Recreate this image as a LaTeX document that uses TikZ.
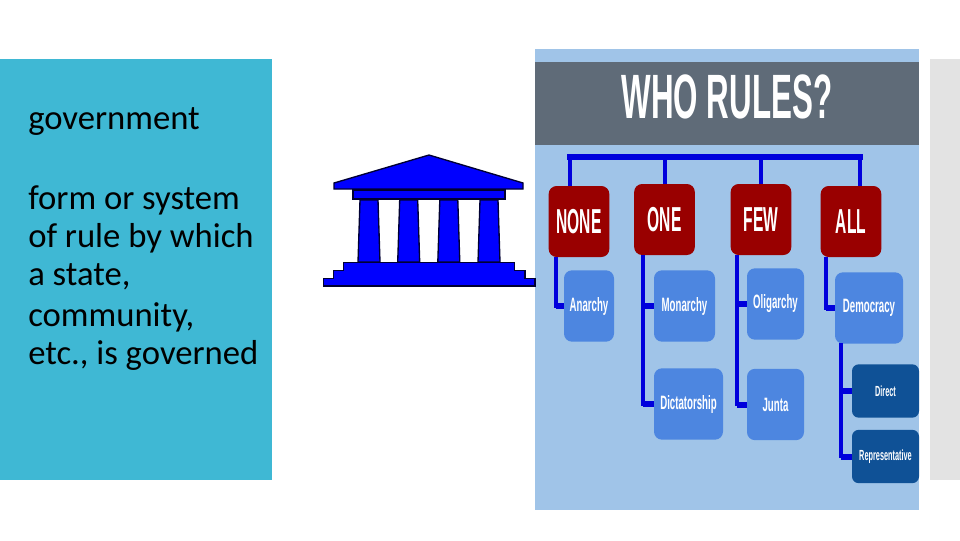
\documentclass[tikz,border=0pt]{standalone}
\usepackage{fontspec}
\usepackage{xcolor}
\setmainfont{Carlito}
\newfontfamily\labelfont{Liberation Sans}
\usetikzlibrary{calc}
\definecolor{panelBlue}{HTML}{A0C4E8}
\definecolor{sideTeal}{HTML}{3FB8D4}
\definecolor{titleGrey}{HTML}{5F6B78}
\definecolor{sideGrey}{HTML}{E3E3E3}
\definecolor{linkBlue}{HTML}{0000DC}
\definecolor{chiefRed}{HTML}{990000}
\definecolor{formBlue}{HTML}{4D86E0}
\definecolor{kindBlue}{HTML}{0F5196}
\definecolor{templeBlue}{HTML}{0000FF}
\newcommand{\narrowtext}[1]{\scalebox{0.5}[1]{#1}}
\newcommand{\chieftext}[1]{\scalebox{0.45}[1]{#1}}
\tikzset{
  chiefbox/.style={fill=chiefRed, rounded corners=6pt, inner sep=0pt, text=white, minimum width=45.5pt, minimum height=53.25pt, font=\labelfont\bfseries\fontsize{26}{26}\selectfont},
  formbox/.style={fill=formBlue, rounded corners=6pt, inner sep=0pt, text=white, minimum height=53.5pt, font=\labelfont\bfseries\fontsize{14.5}{14.5}\selectfont},
  kindbox/.style={fill=kindBlue, rounded corners=5pt, inner sep=0pt, text=white, minimum width=50.25pt, minimum height=40pt, font=\labelfont\bfseries\fontsize{11}{11}\selectfont},
  bodytext/.style={anchor=west, inner sep=0pt, font=\fontsize{26}{26}\selectfont},
  busline/.style={linkBlue, line width=4.5pt},
  dropline/.style={linkBlue, line width=3pt},
  stemline/.style={linkBlue, line width=2.6pt},
  stubline/.style={linkBlue, line width=4.5pt},
  templepart/.style={fill=templeBlue, draw=black!80!blue, line width=1pt, line join=miter},
}
\begin{document}
\begin{tikzpicture}[x=0.75pt, y=-0.75pt]
\useasboundingbox (0,0) rectangle (960,540);
% side bands and panel
\fill[sideTeal] (0,59) rectangle (272,480);
\fill[sideGrey] (930,59) rectangle (960,480);
\fill[panelBlue] (535,49) rectangle (919,510);
\fill[titleGrey] (535,62) rectangle (919,145);
% left text
\node[bodytext] (term) at (28,122) {government};
\node[bodytext] (line1) at (28,200) {form or system};
\node[bodytext] (line2) at (28,238) {of rule by which};
\node[bodytext] (line3) at (28,277) {a state,};
\node[bodytext] (line4) at (28,317) {community,};
\node[bodytext] (line5) at (28,355) {etc., is governed};
% temple
\draw[templepart] (334,183) -- (429,155) -- (523,183) -- (523,189) -- (334,189) -- cycle;
\draw[templepart] (353,190) rectangle (505,199);
\foreach \c in {369,408.7,448.8,489}{
  \draw[templepart] (\c-9,200) -- (\c+9,200) -- (\c+11,262) -- (\c-11,262) -- cycle;
}
\draw[templepart] (343.5,262.5) -- (514.5,262.5) -- (514.5,270.5) -- (525,270.5) -- (525,278.5) -- (535,278.5) -- (535,286) -- (323.5,286) -- (323.5,278.5) -- (333.5,278.5) -- (333.5,270.5) -- (343.5,270.5) -- cycle;
% title
\node[text=white, inner sep=0pt, font=\labelfont\bfseries\fontsize{47}{47}\selectfont] (title) at (727,97) {\narrowtext{WHO RULES?}};
% boxes
\node[chiefbox] (none) at (579,221.5) {\chieftext{NONE}};
\node[chiefbox] (one) at (664.5,219.5) {\chieftext{ONE}};
\node[chiefbox] (few) at (761,219.5) {\chieftext{FEW}};
\node[chiefbox] (all) at (851,221.5) {\chieftext{ALL}};
\node[formbox, minimum width=37.5pt] (anarchy) at (589,306) {\narrowtext{Anarchy}};
\node[formbox, minimum width=45.75pt] (monarchy) at (684.5,306) {\narrowtext{Monarchy}};
\node[formbox, minimum width=42.75pt] (oligarchy) at (775.5,304) {\narrowtext{Oligarchy}};
\node[formbox, minimum width=51pt] (democracy) at (869,308) {\narrowtext{Democracy}};
\node[formbox, minimum width=51.75pt] (dictatorship) at (688.5,404) {\narrowtext{Dictatorship}};
\node[formbox, minimum width=42.75pt] (junta) at (775.5,404.5) {\narrowtext{Junta}};
\node[kindbox] (direct) at (885.5,391) {\narrowtext{Direct}};
\node[kindbox] (representative) at (885.5,456.5) {\narrowtext{Representative}};
% connectors
\coordinate (busw) at (569.5,157);
\coordinate (buse) at (860,157);
\coordinate (nonetrunk) at (556,257);
\coordinate (onetrunk) at (643,255);
\coordinate (fewtrunk) at (737,255);
\coordinate (alltrunk) at (826,257);
\coordinate (demtrunk) at (841,343);
\draw[busline, line cap=rect] (busw) -- (buse);
\draw[dropline] (busw) -- (busw |- none.north);
\draw[dropline] (buse) -- (buse |- all.north);
\foreach \n in {one,few}{\draw[dropline] (\n.north |- busw) -- (\n.north);}
\foreach \t/\b in {nonetrunk/anarchy,onetrunk/dictatorship,fewtrunk/junta,alltrunk/democracy,demtrunk/representative}{
  \draw[stemline] (\t) |- (\b.west);
}
\foreach \t/\b in {nonetrunk/anarchy,onetrunk/monarchy,onetrunk/dictatorship,fewtrunk/oligarchy,fewtrunk/junta,alltrunk/democracy,demtrunk/direct,demtrunk/representative}{
  \draw[stubline] (\t |- \b.west) -- (\b.west);
}
\end{tikzpicture}
\end{document}
